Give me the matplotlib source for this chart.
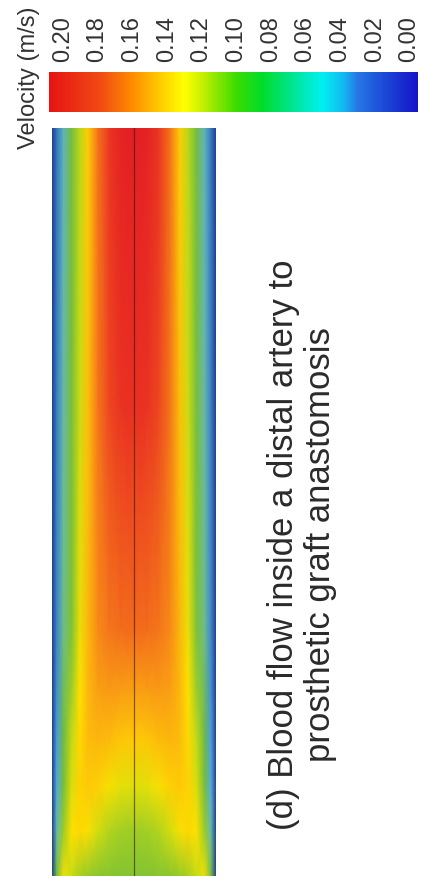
import numpy as np
import matplotlib.pyplot as plt
from matplotlib.colors import LinearSegmentedColormap, Normalize
from matplotlib.cm import ScalarMappable

plt.rcParams['font.family'] = ['Liberation Sans', 'DejaVu Sans']

# colour bar ticks
ticks = [0.20, 0.18, 0.16, 0.14, 0.12, 0.10, 0.08, 0.06, 0.04, 0.02, 0.00]
tick_labels = ['0.20', '0.18', '0.16', '0.14', '0.12', '0.10', '0.08', '0.06', '0.04', '0.02', '0.00']

# distance from the wall (fraction of diameter), half profile
wall_dist = [0.0, 0.03, 0.07, 0.12, 0.17, 0.22, 0.28, 0.35, 0.42, 0.5]
# axial stations (0 = inlet at bottom, 1 = top)
stations = [0.0, 0.06, 0.12, 0.18, 0.25, 0.33, 0.63, 1.0]
# velocity (m/s) read at each station, wall -> centre
vel_z000 = [0.0, 0.085, 0.125, 0.115, 0.108, 0.104, 0.102, 0.101, 0.100, 0.100]
vel_z006 = [0.0, 0.055, 0.105, 0.129, 0.133, 0.128, 0.118, 0.110, 0.107, 0.106]
vel_z012 = [0.0, 0.042, 0.088, 0.120, 0.134, 0.137, 0.135, 0.128, 0.123, 0.121]
vel_z018 = [0.0, 0.037, 0.078, 0.114, 0.133, 0.141, 0.143, 0.141, 0.138, 0.137]
vel_z025 = [0.0, 0.033, 0.070, 0.106, 0.129, 0.143, 0.150, 0.152, 0.151, 0.150]
vel_z033 = [0.0, 0.030, 0.062, 0.097, 0.124, 0.143, 0.156, 0.162, 0.164, 0.165]
vel_z063 = [0.0, 0.028, 0.055, 0.090, 0.116, 0.140, 0.162, 0.178, 0.185, 0.187]
vel_z100 = [0.0, 0.025, 0.050, 0.085, 0.112, 0.136, 0.163, 0.184, 0.196, 0.200]

bar_colors = [(-0.005, '#1414c8'), (0.02, '#1e5adc'), (0.03, '#2878e6'), (0.037, '#14b4f0'),
              (0.05, '#00f0f0'), (0.065, '#00e6a0'), (0.085, '#00dc28'), (0.10, '#3cdc00'),
              (0.12, '#c8f000'), (0.13, '#ffff00'), (0.145, '#ffc800'), (0.16, '#ff8c00'),
              (0.18, '#f04614'), (0.208, '#e61414')]
field_colors = [(-0.005, '#1e3282'), (0.02, '#2d64b4'), (0.04, '#50aae1'), (0.06, '#6ebe96'),
                (0.075, '#6eb946'), (0.10, '#82c332'), (0.115, '#c8dc14'), (0.13, '#ffe100'),
                (0.15, '#faa014'), (0.17, '#f05a1e'), (0.19, '#e82823'), (0.208, '#e01923')]

vmin, vmax = -0.005, 0.208


def make_cmap(name, anchors):
    pos = [(v - vmin) / (vmax - vmin) for v, _ in anchors]
    return LinearSegmentedColormap.from_list(name, list(zip(pos, [c for _, c in anchors])))


bar_cmap = make_cmap('bar', bar_colors)
field_cmap = make_cmap('field', field_colors)
norm = Normalize(vmin, vmax)

fig = plt.figure(figsize=(4.22, 8.92), dpi=100)
W, H = 422, 892

# colour bar
cax = fig.add_axes([49 / W, 1 - 112 / H, 369 / W, 40 / H])
cb = fig.colorbar(ScalarMappable(norm=norm, cmap=bar_cmap), cax=cax, orientation='horizontal')
cb.outline.set_visible(False)
cax.invert_xaxis()
cax.xaxis.set_ticks_position('top')
cax.set_xticks(ticks)
cax.set_xticklabels(tick_labels, rotation=90, fontsize=17, color='#333333')
cax.tick_params(length=0, pad=7)

fig.text(29 / W, 1 - 78 / H, 'Velocity (m/s)', rotation=90, fontsize=17,
         ha='center', va='center', color='#333333')

# velocity field in the artery
ax = fig.add_axes([52 / W, 1 - 876 / H, 164 / W, 748 / H])
half = np.array(wall_dist)
x = np.concatenate([half, 1 - half[::-1][1:]])
rows = [vel_z000, vel_z006, vel_z012, vel_z018, vel_z025, vel_z033, vel_z063, vel_z100]
V = np.array([r + r[::-1][1:] for r in rows])
X, Y = np.meshgrid(x, stations)
ax.pcolormesh(X, Y, V, cmap=field_cmap, norm=norm, shading='gouraud')
ax.plot([0.5, 0.5], [0, 1], color='#3c1410', lw=0.9, alpha=0.6)
ax.set_xlim(0, 1)
ax.set_ylim(0, 1)
ax.axis('off')

fig.text(302 / W, 1 - 545 / H,
         '(d) Blood flow inside a distal artery to\nprosthetic graft anastomosis',
         rotation=90, fontsize=25, ha='center', va='center', multialignment='center',
         color='#2a2a2a', linespacing=1.15)

fig.savefig('out.png', dpi=100)
